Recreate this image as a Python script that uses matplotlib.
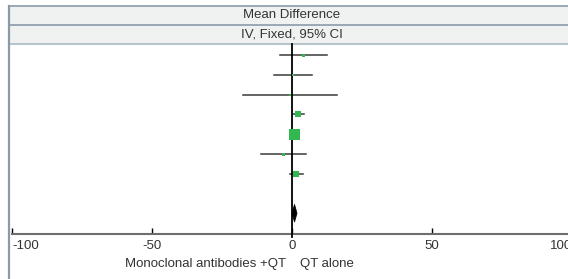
import matplotlib
matplotlib.use("Agg")
import matplotlib.pyplot as plt
from matplotlib.patches import Rectangle, Polygon
from matplotlib.lines import Line2D
import matplotlib.transforms as mtransforms

plt.rcParams['font.family'] = ['Liberation Sans', 'DejaVu Sans']

# study level mean differences with 95% CI
md = [4.0, 0.3, -0.7, 2.0, 0.6, -3.2, 1.4]
ci_low = [-4.3, -6.4, -17.5, 0.4, -0.6, -11.0, -0.7]
ci_high = [12.5, 7.2, 16.1, 4.3, 1.8, 5.0, 3.9]
box_px = [3, 2, 2, 6, 11, 3, 6]   # relative weight shown as square size
pooled = (0.9, 0.0, 1.8)

xticks = [-100, -50, 0, 50, 100]
xticklabels = ['-100', '-50', '0', '50', '100']
header1 = 'Mean Difference'
header2 = 'IV, Fixed, 95% CI'
favours_left = 'Monoclonal antibodies +QT'
favours_right = 'QT alone'

W, H = 568, 279
fig = plt.figure(figsize=(W / 100, H / 100), dpi=100)
fig.patch.set_facecolor('white')

def fx(px):
    return px / W

def fy(py):
    return (H - py) / H

# header boxes (behind everything)
border = '#8a9aa9'
fig.add_artist(Rectangle((fx(9), fy(43)), 1 - fx(9), fy(6) - fy(43),
                         transform=fig.transFigure, facecolor='#f0f2f2',
                         edgecolor='none', zorder=-2))
fig.add_artist(Line2D([fx(9), 1], [fy(6), fy(6)], color=border, lw=1.2, zorder=-1))
fig.add_artist(Line2D([fx(9), 1], [fy(25), fy(25)], color=border, lw=1.2, zorder=-1))
fig.add_artist(Line2D([fx(9), 1], [fy(43.5), fy(43.5)], color='#b8c4cc', lw=1.5, zorder=-1))
fig.add_artist(Line2D([fx(9), fx(9)], [fy(6), 0], color=border, lw=1.6, zorder=-1))

# plot area
ax = fig.add_axes([fx(12), fy(234), fx(572) - fx(12), fy(44) - fy(234)])
ax.set_xlim(-100, 100)
ax.set_ylim(9.05, -0.56)
ax.patch.set_alpha(0)
for s in ['left', 'right', 'top']:
    ax.spines[s].set_visible(False)
ax.spines['bottom'].set_color('#6e6e6e')
ax.spines['bottom'].set_linewidth(1.5)
ax.set_yticks([])
ax.set_xticks(xticks)
ax.set_xticklabels(xticklabels)
ax.tick_params(axis='x', direction='in', length=4, width=1, color='black',
               labelsize=9.5, labelcolor='#333333', pad=4.5)
tl = ax.get_xticklabels()
tl[0].set_ha('left')
tl[-1].set_ha('right')

# line of no effect
ax.plot([0, 0], [-0.56, 9.2], color='black', lw=1.3, clip_on=False, zorder=3)

green = '#33b84f'
for i in range(len(md)):
    ax.plot([ci_low[i], ci_high[i]], [i, i], color='#3a3a3a', lw=1.1, zorder=2)
    ax.plot(md[i], i, marker='s', ms=box_px[i] * 0.72, color=green,
            mec=green, mew=0, zorder=4, linestyle='none')

# pooled estimate diamond
est, lo, hi = pooled
dy = 0.45
ax.add_patch(Polygon([[lo, 8], [est, 8 - dy], [hi, 8], [est, 8 + dy]],
                     closed=True, facecolor='black', edgecolor='black', lw=0.5, zorder=4))

trans = mtransforms.blended_transform_factory(ax.transData, fig.transFigure)
ax.text(0, fy(15.5), header1, transform=trans, ha='center', va='center',
        fontsize=9.5, color='#333333', clip_on=False)
ax.text(0, fy(34.5), header2, transform=trans, ha='center', va='center',
        fontsize=9.5, color='#333333', clip_on=False)
ax.text(-2.2, fy(264), favours_left, transform=trans, ha='right', va='center',
        fontsize=9.5, color='#333333')
ax.text(2.9, fy(264), favours_right, transform=trans, ha='left', va='center',
        fontsize=9.5, color='#333333')

fig.savefig('out.png', dpi=100)
